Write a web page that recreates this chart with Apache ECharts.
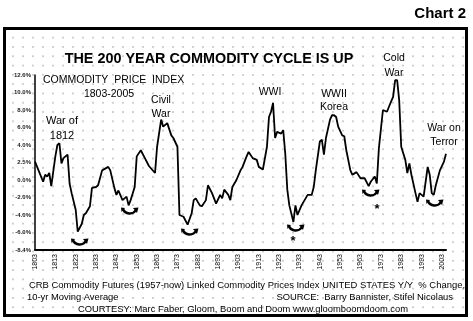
<!DOCTYPE html>
<html>
<head>
<meta charset="utf-8">
<script src="https://cdn.jsdelivr.net/npm/echarts@6/dist/echarts.min.js"></script>
<style>
html,body{margin:0;padding:0;background:#fff;}
#bg{position:absolute;left:6px;top:30px;width:459px;height:284px;
background-image:radial-gradient(circle, #a8a8a8 0.55px, rgba(255,255,255,0) 0.85px);
background-size:10px 9.3px;background-position:2px 3px;}
#chart{position:absolute;left:0;top:0;width:473px;height:321px;}
</style>
</head>
<body>
<div id="bg"></div>
<div id="chart"></div>
<script>
// ---- data ----
const firstYear = 1803;
const lastYear = 2005;
const yearPoints = [1803,1807,1808,1809,1810,1811,1813,1814,1815,1816,1817,1819,1820,1821,1823,1824,1826,1827,1828,1830,
1831,1833,1834,1836,1839,1840,1842,1843,1844,1846,1848,1849,1850,1852,1853,1855,1857,1859,1862,1863,
1865,1866,1868,1870,1871,1873,1874,1876,1878,1880,1881,1882,1884,1885,1887,1888,1890,1892,1894,1895,
1896,1898,1899,1900,1902,1904,1905,1907,1908,1910,1912,1913,1915,1917,1918,1919,1920,1921,1922,1924,
1925,1926,1927,1928,1930,1931,1932,1934,1936,1937,1939,1940,1941,1943,1944,1945,1946,1948,1949,1950,
1951,1952,1954,1955,1956,1958,1959,1961,1963,1965,1967,1968,1970,1971,1972,1974,1976,1977,1979,1980,
1981,1982,1983,1985,1986,1987,1988,1990,1991,1992,1994,1996,1997,1998,1999,2000,2002,2004,2005];
const changeValues = [2.1,-0.2,0.6,0.4,0.8,-0.7,2.7,4.0,4.2,1.9,2.5,2.9,-0.4,-1.5,-3.4,-5.9,-5.0,-4.0,-3.8,-3.0,
-0.9,-0.8,-0.6,1.1,1.5,1.1,-0.9,-1.7,-1.2,-2.3,-1.9,-2.9,-2.3,-0.8,2.7,3.4,2.5,1.6,0.8,3.8,
6.9,6.1,6.5,5.1,4.8,3.8,-4.0,-4.2,-5.1,-3.8,-2.3,-2.1,-2.9,-3.0,-2.3,-0.6,-1.5,-2.7,-1.7,-2.1,
-1.1,-1.7,-2.3,-0.8,0.0,1.1,1.5,2.7,3.2,2.5,2.3,1.5,1.2,3.8,7.2,7.8,8.8,4.8,5.5,5.3,
5.7,3.0,-1.1,-2.9,-4.8,-2.9,-4.0,-2.9,-2.1,-1.7,-1.7,-0.8,1.1,4.4,4.6,2.9,4.8,6.9,7.4,7.4,
7.2,6.1,5.1,5.0,3.4,1.1,0.6,0.9,0.2,0.2,-0.7,-0.2,0.4,-0.4,3.6,8.0,7.8,8.4,9.5,11.4,
11.4,9.1,3.8,2.3,0.8,1.9,0.6,-1.5,-2.5,-1.5,-1.9,1.5,0.6,-1.5,-1.7,-0.6,1.1,2.1,3.0];
const yTickLabels = ["-8.4%","-6.0%","-4.0%","-2.0%","0.0%","2.5%","4.0%","6.0%","8.0%","10.0%","12.0%"];
const xTickStep = 10;

const categories = [];
for (let y = firstYear; y <= lastYear; y++) categories.push(String(y));
const lineData = yearPoints.map((y, i) => [String(y), changeValues[i]]);

const F = 'Liberation Sans, Arial, sans-serif';
function txt(x, y, s, size, opts) {
  opts = opts || {};
  return {type:'text', x:x, y:y, z:10, style:Object.assign({text:s, font:(opts.weight||'normal')+' '+size+'px '+F,
    fill:'#000', align:opts.align||'center', verticalAlign:'middle', lineHeight:opts.lh||size+3}, opts.style||{})};
}
function curlArrow(cx, cy) {
  return {type:'group', x:cx-8, y:cy-3, z:10, children:[
    {type:'bezierCurve', shape:{x1:1, y1:1, cpx1:3, cpy1:6.5, cpx2:11, cpy2:7, x2:14, y2:2}, style:{stroke:'#000', lineWidth:2.4, fill:null}},
    {type:'polygon', shape:{points:[[11,0],[16.5,-0.5],[15,5]]}, style:{fill:'#000'}},
    {type:'polygon', shape:{points:[[-0.5,4],[3,0],[-1,-0.5]]}, style:{fill:'#000'}}
  ]};
}

const chart = echarts.init(document.getElementById('chart'), null, {renderer:'canvas'});
chart.setOption({
  backgroundColor:'transparent',
  animation:false,
  grid:{left:35, right:27, top:75, bottom:71, containLabel:false},
  xAxis:{type:'category', data:categories, boundaryGap:false,
    axisLine:{show:true, onZero:false, lineStyle:{color:'#000', width:2}},
    axisTick:{show:false},
    axisLabel:{interval:xTickStep-1, rotate:90, fontSize:7, fontFamily:F, color:'#000', margin:4},
    splitLine:{show:false}},
  yAxis:{type:'value', min:-8, max:12, interval:2,
    axisLine:{show:true, lineStyle:{color:'#000', width:1.5}},
    axisTick:{show:false},
    axisLabel:{fontSize:6, fontWeight:'bold', fontFamily:F, color:'#222', margin:4,
      formatter:function(v){ const i = Math.round((v+8)/2); return yTickLabels[i] || ''; }},
    splitLine:{show:false}},
  series:[{type:'line', data:lineData, showSymbol:false, symbol:'none',
    lineStyle:{color:'#000', width:1.8}, z:5}],
  graphic:[
    {type:'rect', shape:{x:4.5, y:28.5, width:462, height:287}, style:{stroke:'#000', lineWidth:3, fill:null}, z:10},
    txt(466, 14, 'Chart 2', 15, {weight:'bold', align:'right'}),
    txt(209, 59, 'THE 200 YEAR COMMODITY CYCLE IS UP', 14.4, {weight:'bold'}),
    txt(43, 80, 'COMMODITY  PRICE  INDEX', 10.5, {align:'left'}),
    txt(109, 94, '1803-2005', 10.5),
    txt(62, 128, 'War of\n1812', 11, {lh:15}),
    txt(161, 107, 'Civil\nWar', 10.5, {lh:14}),
    txt(270, 92, 'WWI', 10.5),
    txt(334, 101, 'WWII\nKorea', 10.5, {lh:13}),
    txt(394, 66, 'Cold\nWar', 10.5, {lh:15}),
    txt(444, 135, 'War on\nTerror', 10.5, {lh:14}),
    txt(247, 285, 'CRB Commodity Futures (1957-now) Linked Commodity Prices Index UNITED STATES Y/Y  % Change,', 9.45),
    txt(27, 297, '10-yr Moving Average', 9.4, {align:'left'}),
    txt(453, 297, 'SOURCE:  Barry Bannister, Stifel Nicolaus', 9.4, {align:'right'}),
    txt(243, 309, 'COURTESY: Marc Faber, Gloom, Boom and Doom www.gloomboomdoom.com', 9.4),
    curlArrow(80, 242),
    curlArrow(130, 211),
    curlArrow(190, 232),
    curlArrow(296, 228),
    curlArrow(371, 193),
    curlArrow(435, 203),
    txt(293, 241, '*', 13, {weight:'bold'}),
    txt(377, 209, '*', 13, {weight:'bold'})
  ]
});
</script>
</body>
</html>
